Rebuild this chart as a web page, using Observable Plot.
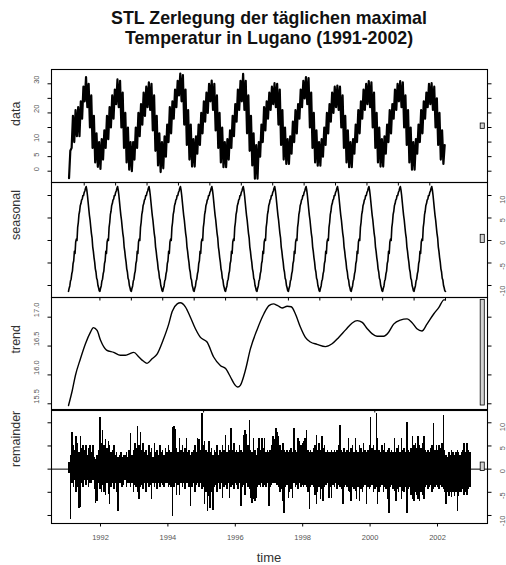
<!DOCTYPE html>
<html><head><meta charset="utf-8">
<script src="https://cdn.jsdelivr.net/npm/d3@7"></script>
<script src="https://cdn.jsdelivr.net/npm/@observablehq/plot@0.6"></script>
<style>
html,body{margin:0;padding:0;background:#fff;}
#chart{position:relative;width:506px;height:565px;overflow:hidden;font-family:"Liberation Sans",Arial,sans-serif;}
.ttl{position:absolute;left:69px;width:400px;text-align:center;font-weight:bold;font-size:17.8px;line-height:20px;color:#111;white-space:nowrap;}
.xlab{position:absolute;left:219px;width:100px;text-align:center;font-size:13px;line-height:16px;color:#333;}
.panel{position:absolute;left:0;}
</style></head><body><div id="chart"></div>
<script>
// ---------------- data ----------------
const titleLines = ["STL Zerlegung der täglichen maximal", "Temperatur in Lugano (1991-2002)"];
const panelLabels = ["data", "seasonal", "trend", "remainder"];
const xTitle = "time";

// monthly low / high envelope of the daily maxima, 1991..2002 (Jan..Dec)
const dataLo = [
  -2.4, 8, 10, 12, 12, 18, 24, 22, 15, 8, 3, 1.5,
  0.8, 4, 8, 11, 15, 18, 23, 22, 15, 8, 3, 0.5,
  0, 4, 8, 12, 16, 19, 22, 21, 14, 7, 2, -0.3,
  1, 5, 10, 13, 18, 22, 26, 24, 16, 9, 4, 1.6,
  1.6, 6, 9, 13, 17, 20, 24, 21, 14, 8, 3, 1.4,
  1.4, 4, 8, 12, 17, 21, 24, 21, 13, 7, 2, -2.6,
  -2.6, 5, 10, 14, 18, 21, 23, 22, 16, 9, 4, 2.5,
  2.5, 6, 10, 13, 18, 22, 25, 23, 15, 8, 3, 1.9,
  1.9, 5, 9, 13, 17, 20, 22, 21, 15, 8, 3, 1.4,
  1.4, 6, 10, 13, 18, 21, 23, 22, 15, 8, 3, 1.6,
  1.6, 6, 10, 13, 18, 21, 24, 22, 15, 9, 3, 0.5,
  0.5, 6, 10, 13, 18, 22, 23, 21, 15, 9, 4, 2.5
];
const dataHi = [
  7, 19, 21, 22, 24, 29, 32.3, 30, 26, 19, 13, 10,
  11, 14, 19, 22, 26, 28, 31.5, 31, 27, 20, 15, 10,
  10, 15, 20, 23, 27, 29, 30.5, 30, 26, 19, 13, 10,
  12, 16, 22, 24, 28, 31, 33.5, 33, 28, 21, 16, 11,
  12, 16, 20, 24, 27, 30, 31.1, 30, 26, 20, 15, 10,
  11, 14, 19, 23, 28, 31, 33.4, 31, 26, 19, 13, 9,
  10, 16, 22, 24, 27, 29, 30.2, 30, 28, 21, 15, 11,
  12, 17, 21, 23, 28, 31, 32.3, 32, 27, 20, 14, 10,
  11, 15, 20, 23, 27, 29, 29.4, 29, 26, 19, 14, 10,
  11, 16, 21, 24, 28, 30, 30.9, 30.5, 27, 20, 15, 11,
  12, 16, 21, 23, 28, 30, 30.9, 30.5, 26, 21, 15, 10,
  11, 16, 21, 24, 27, 30, 30.2, 29, 25, 20, 14, 9
];
const dataStart = 1991;

// one periodic seasonal cycle (48 steps per year, starting 1 January)
const seasonalCycle = [
  -11.3, -10.6, -10.1, -9.0, -8.6, -7.4, -6.8, -5.1, -4.5, -2.4, -2.9, -0.3,
  0.3, 0.0, 2.9, 4.0, 5.8, 6.5, 7.8, 8.2, 9.0, 9.2, 10.0, 10.0,
  10.7, 11.0, 11.6, 12.0, 11.2, 10.0, 8.5, 7.0, 5.6, 4.5, 3.0, 1.6,
  0.6, -1.4, -2.4, -3.8, -4.8, -6.3, -7.0, -8.4, -8.8, -10.0, -10.5, -11.2
];
const seasonalYears = 12;

// trend
const trendT = [1991.00,1991.12,1991.22,1991.38,1991.54,1991.70,1991.79,1991.91,1992.02,1992.21,1992.44,1992.65,1992.81,1992.92,1993.08,1993.24,1993.38,1993.50,1993.66,1993.82,1994.01,1994.19,1994.30,1994.46,1994.56,1994.72,1994.88,1995.04,1995.20,1995.41,1995.62,1995.84,1996.00,1996.16,1996.27,1996.39,1996.47,1996.63,1996.79,1997.00,1997.22,1997.38,1997.52,1997.66,1997.80,1997.96,1998.09,1998.22,1998.38,1998.54,1998.70,1998.91,1999.18,1999.39,1999.60,1999.82,2000.03,2000.19,2000.35,2000.51,2000.67,2000.82,2001.03,2001.19,2001.35,2001.56,2001.78,2001.93,2002.09,2002.25,2002.41,2002.63,2002.79,2002.95,2003.00];
const trendV = [15.47,15.73,15.99,16.28,16.54,16.74,16.82,16.77,16.60,16.43,16.39,16.34,16.34,16.36,16.39,16.31,16.24,16.20,16.28,16.36,16.60,16.88,17.10,17.23,17.25,17.18,17.00,16.80,16.65,16.57,16.31,16.16,16.11,15.96,15.85,15.79,15.82,16.08,16.45,16.78,17.06,17.20,17.23,17.20,17.16,17.19,17.18,17.06,16.83,16.65,16.57,16.53,16.49,16.54,16.65,16.78,16.90,16.94,16.91,16.80,16.71,16.67,16.67,16.74,16.88,16.95,16.97,16.91,16.80,16.76,16.88,17.06,17.17,17.30,17.30];

// remainder: half-monthly highest / lowest value
const remHi = [
  1.5,3,8,5,4,7,5.5,3.5,7,4.5,5,4,5,3,4.5,5,3.5,5,2.5,2,3,4,11.2,5.5,
  8.4,5,6.5,4.5,6,5,3.5,4,5,3,3.5,2.5,3,3.5,2.5,3,3,3.5,2.5,4,7.6,3,4,5.5,
  4.5,9.1,5,8,4,5.5,3.5,4,3,5,3.5,4.5,2.5,5.5,3.5,4,3,5,3.5,4,3,4.5,3.5,5,
  4,3.5,9,9.2,8.5,4.5,3.5,6.6,4,5,3.5,4.5,6.6,3.5,4,3,3.5,4,5,3.5,6.6,6.5,4,11.9,
  5,5.9,4,3.5,5.9,3.5,4.5,3,4,3.5,5,3,4,3.5,5,4,7.2,3.5,5,4,8.7,4,5.5,3.5,
  4,3.5,5,4,3.5,7.2,8.4,7.5,5,10.5,4,3.5,6.6,4,3,4.5,6.6,4,6.6,4.5,6.6,3.5,4,3.5,
  4,5,7,6.5,8.7,8,7,5,4,5.5,4,3.5,4,3.5,4,4.5,3.5,8.7,4,3.5,6.6,5.9,5,5.5,
  5.9,6.6,8.4,4,3.5,4,3.5,4.5,5,7.2,4,5.5,4,7,4.5,5,3.5,4,3.5,3.5,4,3.5,4,3.5,
  4,5,9.4,4,3.5,4.5,3.5,4,6.6,3.5,4.5,5,3.5,6.6,4,3.5,5,4.5,3.5,5.5,4,3.5,4,5,
  11.2,4.5,5,4,11.9,6.6,4,3.5,5,4,5.5,3.5,4,4.5,3.5,4,3.5,6.6,3.5,4.5,5,3.5,6.6,4,
  4.5,3.5,10.1,4,3.5,4.5,7,5,5.5,4.5,7,5,4.5,5.5,7,4,3.5,4,3.5,4.5,5,9.8,4,5,
  4,5,4.5,5.5,11.6,4,3,2.5,3.5,3,4,3.5,3,3.5,4,3.5,3,3.5,4,5.5,3.5,5.5,4,3.5
];
const remLo = [
  -1,-10.9,-3,-4,-2.5,-5,-4,-8.4,-8.2,-3,-4,-2.5,-3.5,-2.5,-4,-3,-3,-2.5,-4.5,-7.4,-7,-3,-4.5,-5,
  -3.5,-5,-5.6,-3,-5.5,-7.7,-4,-3,-4.5,-3,-5,-9.1,-3,-3,-4,-3.5,-2.5,-4,-3,-3,-4,-3,-5,-3.5,
  -4,-5,-6.6,-4,-3.5,-4.5,-3,-5,-3,-4,-3.5,-6.6,-3,-4,-3,-4.5,-3,-4,-3,-3.5,-4,-3,-3,-4,
  -3.5,-4,-10.2,-4,-3,-5.6,-3.5,-5.6,-3,-4,-3,-4.5,-3,-3,-4,-8.1,-4,-3,-5,-3.5,-3,-4,-3,-4.5,
  -4,-7.7,-5,-9.1,-6,-8.5,-5,-9,-4,-3.5,-5,-3,-4.5,-3,-6.3,-4,-3.5,-4.5,-3,-6.3,-4,-3.5,-4.5,-3,
  -3.5,-4.5,-3,-8.1,-4,-3.5,-5.6,-3,-4,-4.5,-6.3,-7.4,-6.5,-7,-6.3,-4,-3.5,-4,-3,-4,-3.5,-4,-3,-8.1,
  -4,-3.5,-3,-3,-3,-3.5,-4,-5,-4.5,-7,-9.5,-4,-3.5,-6.3,-5,-4.5,-6.3,-3,-4,-3.5,-4.5,-3,-4,-3.5,
  -4,-3.5,-4,-5,-8.8,-4,-3.5,-4,-5.6,-7.7,-5,-4,-6.5,-4.5,-7,-4,-3.5,-3,-6.3,-4,-6.3,-3.5,-4,-3,
  -4.5,-3.5,-4,-4.5,-7.7,-4,-3.5,-4,-4.9,-5,-7,-4,-4.5,-4.9,-6.5,-4,-7,-4.5,-5,-4,-3.5,-7.7,-4,-4.5,
  -4,-3.5,-5,-4.5,-4,-7.7,-5,-4,-3.5,-5,-4,-4.5,-6.5,-9.5,-4,-3.5,-4.5,-4.9,-7,-4.5,-5,-4,-6.5,-4.9,
  -5,-4,-9.5,-4.5,-4,-5.7,-6.5,-7,-5,-5.7,-6.5,-7,-5,-5.7,-6.5,-4,-3.5,-4.5,-4,-3.5,-5,-4.5,-4,-3.5,
  -4,-4.5,-3.5,-4,-4.5,-5,-7.7,-5,-6,-5,-6.1,-5,-6,-5,-9.1,-6,-5,-5,-4.5,-5.7,-5,-5.7,-4.5,-4
];
const remStart = 1991.05, remEnd = 2002.98;

// axis ticks / labels
const dataTicks = [0, 5, 10, 15, 20, 25, 30];
const dataTickLabels = [0, 5, 10, 20, 30];
const seasTicks = [-10, -5, 0, 5, 10];
const trendTicks = [15.5, 16.0, 16.5, 17.0];
const remTicks = [-10, -5, 0, 5, 10];
const dataXTicks = [1991.5,1992.5,1993.5,1994.5,1995.5,1996.5,1997.5,1998.5,1999.5,2000.5,2001.5,2002.5];
const seasXTicks = [1992,1993,1994,1995,1996,1997,1998,1999,2000,2001,2002,2003];
const trendXTicks = [1995.3, 2000.75];
const yearTicks = [1992, 1994, 1996, 1998, 2000, 2002];

// ---------------- build tables ----------------
const dataPts = [];
dataLo.forEach((lo, m) => {
  dataPts.push({t: dataStart + (m + 0.2) / 12, v: lo});
  dataPts.push({t: dataStart + (m + 0.7) / 12, v: dataHi[m]});
});
const seasPts = [];
for (let k = 0; k <= seasonalYears * seasonalCycle.length; k++) {
  seasPts.push({t: dataStart + k / seasonalCycle.length, v: seasonalCycle[k % seasonalCycle.length]});
}
const trendPts = trendT.map((t, i) => ({t, v: trendV[i]}));
const remStep = (remEnd - remStart) / remHi.length;
const remPts = remHi.map((hi, i) => ({t: remStart + (i + 0.5) * remStep, hi, lo: remLo[i]}));

const mid = a => (d3.min(a) + d3.max(a)) / 2;
const barH = d3.max(trendV) - d3.min(trendV);

const FONT = "Liberation Sans, Arial, sans-serif";
const topX = [1990.459, 2004.337];
const remX = [1990.546, 2003.484];
const fmt1 = d => d.toFixed(1);

function panel(o) {
  const w = o.xDomain[1] - o.xDomain[0];
  const bx1 = o.xDomain[1] - w / 64, bx2 = o.xDomain[1] - 0.4 * w / 64;
  const fmt = o.fmt || (d => String(d));
  const svg = Plot.plot({
    width: 506, height: o.height,
    marginLeft: 51, marginRight: 19, marginTop: 0, marginBottom: 0,
    x: {domain: o.xDomain, axis: null},
    y: {domain: o.yDomain, axis: null},
    style: {overflow: "visible", background: "transparent", fontFamily: FONT},
    marks: [
      ...o.marks,
      Plot.rect([o.barCenter], {x1: bx1, x2: bx2, y1: d => d - barH / 2, y2: d => d + barH / 2, fill: "#d3d3d3", stroke: "black", strokeWidth: 0.8}),
      Plot.frame({stroke: "black", strokeWidth: 1.1}),
      Plot.axisY({anchor: "left", ticks: o.yTicks, tickSize: 3.5, tickFormat: () => "", label: null, stroke: "black"}),
      Plot.axisY({anchor: "right", ticks: o.yTicks, tickSize: 3.5, tickFormat: () => "", label: null, stroke: "black"}),
      Plot.axisX({anchor: "bottom", ticks: o.xTicks, tickSize: 3.5, tickFormat: () => "", label: null, stroke: "black"}),
      Plot.text(o.yLabels, {y: d => d, text: fmt, frameAnchor: o.labelSide, dx: o.labelSide === "left" ? -15 : 15, rotate: -90, fontSize: 7.5, fill: "#555"}),
      Plot.text([o.title], {text: d => d, frameAnchor: "left", dx: -36, rotate: -90, fontSize: 12.5, fill: "#333"}),
      ...(o.extra || [])
    ]
  });
  svg.classList.add("panel");
  svg.style.top = o.top + "px";
  return svg;
}

const chart = document.getElementById("chart");
titleLines.forEach((s, i) => {
  const d = document.createElement("div");
  d.className = "ttl"; d.style.top = (8 + i * 20) + "px"; d.textContent = s;
  chart.appendChild(d);
});

chart.appendChild(panel({
  top: 69, height: 113, xDomain: topX, yDomain: [-3.88, 34.91],
  marks: [Plot.line(dataPts, {x: "t", y: "v", stroke: "black", strokeWidth: 2.2})],
  barCenter: mid(dataLo.concat(dataHi)),
  yTicks: dataTicks, yLabels: dataTickLabels, labelSide: "left",
  xTicks: dataXTicks, title: panelLabels[0]
}));
chart.appendChild(panel({
  top: 182, height: 115, xDomain: topX, yDomain: [-12.67, 12.89],
  marks: [Plot.line(seasPts, {x: "t", y: "v", stroke: "black", strokeWidth: 1.6})],
  barCenter: mid(seasonalCycle),
  yTicks: seasTicks, yLabels: seasTicks, labelSide: "right",
  xTicks: seasXTicks, title: panelLabels[1]
}));
chart.appendChild(panel({
  top: 297, height: 112, xDomain: topX, yDomain: [15.401, 17.341],
  marks: [Plot.line(trendPts, {x: "t", y: "v", stroke: "black", strokeWidth: 1.4, curve: "monotone-x"})],
  barCenter: mid(trendV),
  yTicks: trendTicks, yLabels: trendTicks, labelSide: "left", fmt: fmt1,
  xTicks: trendXTicks, title: panelLabels[2]
}));
chart.appendChild(panel({
  top: 410, height: 113, xDomain: remX, yDomain: [-11.73, 12.65],
  marks: [
    Plot.ruleY([0], {stroke: "black", strokeWidth: 1}),
    Plot.ruleX(remPts, {x: "t", y1: 0, y2: "hi", stroke: "black", strokeWidth: 1.5, shapeRendering: "crispEdges"}),
    Plot.ruleX(remPts, {x: "t", y1: 0, y2: "lo", stroke: "black", strokeWidth: 1.5, shapeRendering: "crispEdges"})
  ],
  barCenter: mid(remHi.concat(remLo)),
  yTicks: remTicks, yLabels: remTicks, labelSide: "right",
  xTicks: yearTicks, title: panelLabels[3],
  extra: [Plot.text(yearTicks, {x: d => d, text: d => String(d), frameAnchor: "bottom", dy: 16.5, fontSize: 7.5, fill: "#555"})]
}));

const xl = document.createElement("div");
xl.className = "xlab"; xl.style.top = "550px"; xl.textContent = xTitle;
chart.appendChild(xl);
</script></body></html>
